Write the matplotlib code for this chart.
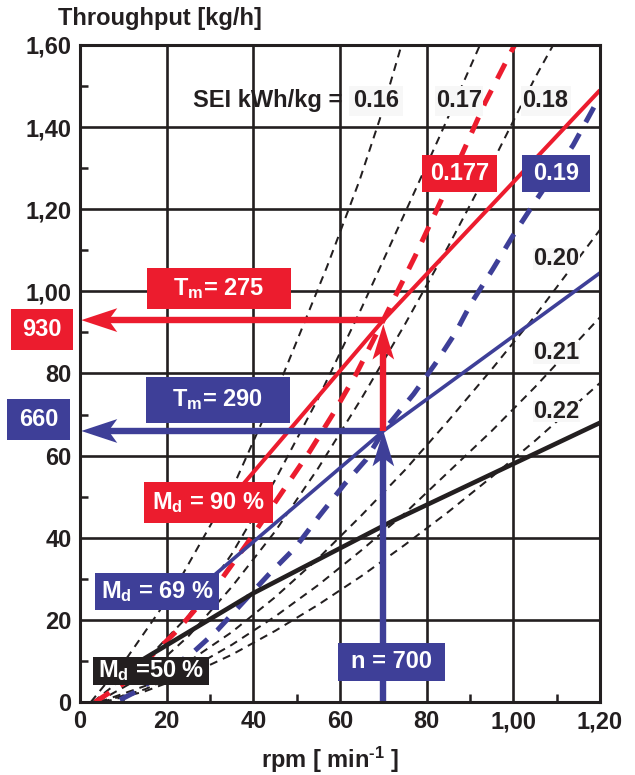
import matplotlib
matplotlib.use("Agg")
import matplotlib.pyplot as plt
from matplotlib.patches import Rectangle, Polygon

plt.rcParams['font.family'] = ['Liberation Sans', 'DejaVu Sans']
plt.rcParams['font.weight'] = 'bold'
plt.rcParams['mathtext.fontset'] = 'custom'
plt.rcParams['mathtext.rm'] = 'Liberation Sans:bold'
plt.rcParams['mathtext.it'] = 'Liberation Sans:bold'
plt.rcParams['mathtext.bf'] = 'Liberation Sans:bold'

RED = '#ec1c2e'
BLUE = '#3e3f98'
BLACK = '#231f20'
PAPER = '#f7f7f7'

# axis ticks (rpm and throughput, drawn in units of 10)
x_ticks = [0, 20, 40, 60, 80, 100, 120]
x_labels = ['0', '20', '40', '60', '80', '1,00', '1,20']
y_ticks = [0, 20, 40, 60, 80, 100, 120, 140, 160]
y_labels = ['0', '20', '40', '60', '80', '1,00', '1,20', '1,40', '1,60']

# constant SEI curves (black dashed)
sei_016_x = [2.5, 11, 21.5, 29, 36, 47, 57, 64.5, 69.2, 74.2]
sei_016_y = [0, 11, 27, 41, 54, 80, 106, 127, 142, 160]
sei_017_x = [3, 15, 25, 35, 45, 55, 65, 75.8, 83.1, 92.3]
sei_017_y = [0, 10, 21, 36, 54, 74, 96, 121, 138, 160]
sei_018_x = [4, 15, 25, 35, 45, 55, 65, 75, 85, 95, 105, 109.2]
sei_018_y = [0, 6.5, 16, 28, 41.5, 57, 74, 92, 111, 131, 152, 160]
sei_020_x = [4.5, 15, 25, 35, 45, 55, 65, 75, 85, 95, 105, 120]
sei_020_y = [0, 3.9, 9.8, 17, 25.5, 35, 45.5, 56.5, 68.5, 81, 94, 115]
sei_021_x = [5, 15, 25, 35, 45, 55, 65, 75, 85, 95, 105, 120]
sei_021_y = [0, 3.1, 7.9, 13.9, 20.8, 28.5, 37, 46, 56, 66, 76.7, 93.7]
sei_022_x = [5.5, 15, 25, 35, 45, 55, 65, 75, 85, 95, 105, 120]
sei_022_y = [0, 2.6, 6.6, 11.5, 17.3, 23.7, 30.7, 38.3, 46.3, 54.8, 63.6, 77.7]

# operating SEI curves (coloured dashed)
sei_0177_x = [3.5, 10, 22.5, 32.7, 38.5, 53, 58.3, 63.8, 70, 77.3, 84.6, 93.5, 100.3]
sei_0177_y = [0, 4.5, 17.5, 30, 38.5, 61, 70, 80, 93, 108.5, 125, 146, 160]
sei_019_x = [9.2, 12.7, 26, 31.7, 43.5, 49.6, 55, 61, 66, 70, 77, 82, 86.7, 90.2,
             95.2, 100, 104.5, 113.8, 119.2]
sei_019_y = [0.5, 2.4, 12, 17.5, 31, 37.5, 45, 53, 59, 66, 75, 82.4, 90, 97,
             105.3, 113.7, 121, 135.6, 146]

# torque lines
md90_x = [36, 70, 120]
md90_y = [51, 93, 149]
md69_x = [28, 70, 120]
md69_y = [28.2, 66, 104.5]
md50_x = [10, 40, 72, 120]
md50_y = [7.5, 26.5, 44, 68]

# operating point
n_op = 70
q_red = 93
q_blue = 66

fig = plt.figure(figsize=(6.35, 7.75), dpi=100)
ax = fig.add_axes([80 / 635, 1 - 702 / 775, 520 / 635, 657 / 775])
ax.set_xlim(0, 120)
ax.set_ylim(0, 160)

for xv in x_ticks[1:-1]:
    ax.axvline(xv, color=BLACK, lw=1.9, zorder=1)
for yv in y_ticks[1:-1]:
    ax.axhline(yv, color=BLACK, lw=1.9, zorder=1)
for s in ax.spines.values():
    s.set_linewidth(2.2)
    s.set_color(BLACK)
    s.set_zorder(8)

ax.set_xticks(x_ticks)
ax.set_xticklabels(x_labels)
ax.set_yticks(y_ticks)
ax.set_yticklabels(y_labels)
ax.set_xticks(range(10, 120, 20), minor=True)
ax.set_yticks(range(10, 160, 20), minor=True)
ax.tick_params(which='major', length=0, labelsize=17, pad=6, colors=BLACK)
ax.tick_params(which='minor', direction='in', length=6, width=1.8, color=BLACK)

thin = dict(color=BLACK, lw=1.45, ls=(0, (4.0, 3.0)), zorder=2)
for xs, ys in [(sei_016_x, sei_016_y), (sei_017_x, sei_017_y), (sei_018_x, sei_018_y),
               (sei_020_x, sei_020_y), (sei_021_x, sei_021_y), (sei_022_x, sei_022_y)]:
    ax.plot(xs, ys, clip_on=True, **thin)

ax.plot(sei_0177_x, sei_0177_y, color=RED, lw=3.6, ls=(0, (3.4, 2.6)), zorder=3)
ax.plot(sei_019_x, sei_019_y, color=BLUE, lw=3.6, ls=(0, (3.4, 2.6)), zorder=3)

ax.plot(md90_x, md90_y, color=RED, lw=2.9, zorder=4, solid_capstyle='butt')
ax.plot(md69_x, md69_y, color=BLUE, lw=2.6, zorder=4, solid_capstyle='butt')
ax.plot(md50_x, md50_y, color=BLACK, lw=3.3, zorder=4, solid_capstyle='butt')


def head(tip, direction, length, half, notch, color):
    # barbed arrow head, direction one of 'left' / 'up'
    tx, ty = tip
    if direction == 'left':
        pts = [(tx, ty), (tx + length, ty + half), (tx + notch, ty), (tx + length, ty - half)]
    else:
        pts = [(tx, ty), (tx - half, ty - length), (tx, ty - notch), (tx + half, ty - length)]
    ax.add_patch(Polygon(pts, closed=True, color=color, lw=0, zorder=6, clip_on=False))


# read-off arrows
ax.plot([n_op, 5], [q_red, q_red], color=RED, lw=4.6, zorder=5, solid_capstyle='butt')
head((0.3, q_red), 'left', 8.3, 2.9, 6.3, RED)
ax.plot([n_op, 5], [q_blue, q_blue], color=BLUE, lw=4.6, zorder=5, solid_capstyle='butt')
head((0.3, q_blue), 'left', 8.3, 2.9, 6.3, BLUE)
ax.plot([n_op, n_op], [q_blue, q_red - 5], color=RED, lw=4.6, zorder=5, solid_capstyle='butt')
head((n_op, q_red - 1), 'up', 8.6, 2.5, 6.6, RED)
ax.plot([n_op, n_op], [0, q_blue - 5], color=BLUE, lw=4.6, zorder=5, solid_capstyle='butt')
head((n_op, q_blue), 'up', 8.6, 2.5, 6.6, BLUE)


def tag(x0, y0, w, h, text, face, fg='white', size=17):
    ax.add_patch(Rectangle((x0, y0), w, h, facecolor=face, edgecolor='none',
                           zorder=7, clip_on=False))
    ax.text(x0 + w / 2, y0 + h / 2, text, color=fg, fontsize=size, fontweight='bold',
            ha='center', va='center', zorder=8, clip_on=False)


tag(78.9, 124.3, 17.3, 8.9, '0.177', RED)
tag(102.0, 124.3, 15.8, 8.9, '0.19', BLUE)
tag(15.4, 95.8, 33.2, 9.8, r'T$_\mathrm{m}$= 275', RED)
tag(15.2, 68.0, 33.2, 11.1, r'T$_\mathrm{m}$= 290', BLUE)
tag(-15.9, 85.8, 14.2, 9.9, '930', RED)
tag(-16.8, 63.8, 14.6, 10.1, '660', BLUE)
tag(59.6, 5.1, 24.7, 9.3, 'n = 700', BLUE)
tag(14.8, 43.7, 29.7, 9.8, r'M$_\mathrm{d}$ = 90 %', RED)
tag(3.5, 22.4, 28.6, 9.0, r'M$_\mathrm{d}$ = 69 %', BLUE)
tag(3.0, 4.1, 26.8, 6.9, r'M$_\mathrm{d}$ =50 %', BLACK)

tag(62.0, 142.8, 12.6, 7.3, '0.16', PAPER, fg=BLACK)
tag(82.0, 142.8, 11.1, 7.3, '0.17', PAPER, fg=BLACK)
tag(101.7, 142.8, 11.5, 7.3, '0.18', PAPER, fg=BLACK)
tag(104.6, 105.3, 10.8, 5.2, '0.20', PAPER, fg=BLACK)
tag(104.6, 82.4, 10.8, 5.2, '0.21', PAPER, fg=BLACK)
tag(104.6, 68.1, 10.8, 5.2, '0.22', PAPER, fg=BLACK)
ax.text(26.1, 146.4, 'SEI kWh/kg =', fontsize=17, fontweight='bold', color=BLACK,
        ha='left', va='center', zorder=8)

fig.text(58 / 635, 1 - 18 / 775, 'Throughput [kg/h]', fontsize=17, fontweight='bold',
         color=BLACK, ha='left', va='center')
fig.text(330 / 635, 1 - 760 / 775, r'rpm [ min$^\mathrm{\text{-}1}$ ]', fontsize=17,
         fontweight='bold', color=BLACK, ha='center', va='center')

fig.savefig('out.png', dpi=100)
